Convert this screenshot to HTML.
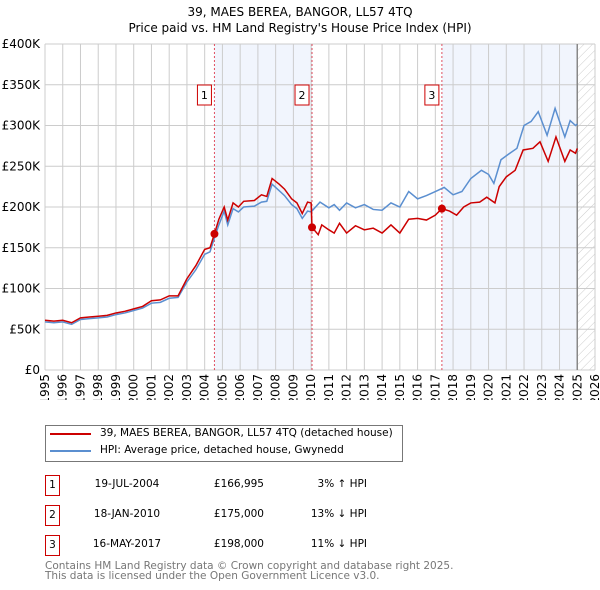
<!DOCTYPE html>
<html><head><meta charset="utf-8"><style>
body{margin:0;background:#fff;font-family:"DejaVu Sans","Liberation Sans",sans-serif;}
#wrap{position:relative;width:600px;height:590px;overflow:hidden}
.t{position:absolute;font-size:10.5px;color:#000;white-space:nowrap}
</style></head><body><div id="wrap">
<svg id="chart" width="600" height="400" style="position:absolute;left:0;top:0"></svg>
<div style="position:absolute;left:45px;top:425px;width:356px;height:35px;border:1px solid #777"></div>
<div style="position:absolute;left:50px;top:433px;width:41px;height:2px;background:#cc0000"></div>
<div class="t" style="left:100px;top:427px">39, MAES BEREA, BANGOR, LL57 4TQ (detached house)</div>
<div style="position:absolute;left:50px;top:450px;width:41px;height:2px;background:#5b8fd0"></div>
<div class="t" style="left:100px;top:444px">HPI: Average price, detached house, Gwynedd</div>
<div id="rows"></div>
<div class="t" style="left:45px;top:560px;color:#777">Contains HM Land Registry data © Crown copyright and database right 2025.</div>
<div class="t" style="left:45px;top:570px;color:#777">This data is licensed under the Open Government Licence v3.0.</div>
</div>
<script>
const yearTicks=[1995,1996,1997,1998,1999,2000,2001,2002,2003,2004,2005,2006,2007,2008,2009,2010,2011,2012,2013,2014,2015,2016,2017,2018,2019,2020,2021,2022,2023,2024,2025,2026];
const valueTicks=[0,50,100,150,200,250,300,350,400];
const valueTickLabels=["£0","£50K","£100K","£150K","£200K","£250K","£300K","£350K","£400K"];
const redYears=[1995,1995.5,1996,1996.5,1997,1997.5,1998,1998.5,1999,1999.5,2000,2000.5,2001,2001.5,2002,2002.5,2003,2003.5,2004,2004.3,2004.55,2004.8,2005.1,2005.3,2005.6,2005.9,2006.2,2006.8,2007.2,2007.5,2007.8,2008.2,2008.5,2008.9,2009.2,2009.5,2009.8,2010.0,2010.05,2010.4,2010.6,2011,2011.3,2011.6,2012,2012.5,2013,2013.5,2014,2014.5,2015,2015.5,2016,2016.5,2017,2017.37,2017.8,2018.2,2018.6,2019,2019.5,2019.9,2020.36,2020.6,2021,2021.5,2021.95,2022.5,2022.9,2023.36,2023.8,2024.3,2024.6,2024.9,2025.0];
const redValues=[61,60,61,58,64,65,66,67,70,72,75,78,85,86,91,91,112,128,148,150,167,185,200,184,205,200,207,208,215,213,235,228,222,210,205,192,206,205,175,166,178,172,168,180,168,177,172,174,168,178,168,185,186,184,190,198,195,190,200,205,206,212,205,225,237,245,270,272,280,256,286,256,270,266,272];
const hpiYears=[1995,1995.5,1996,1996.5,1997,1997.5,1998,1998.5,1999,1999.5,2000,2000.5,2001,2001.5,2002,2002.5,2003,2003.5,2004,2004.3,2004.55,2004.8,2005.1,2005.3,2005.6,2005.9,2006.2,2006.8,2007.2,2007.5,2007.8,2008.2,2008.5,2008.9,2009.2,2009.5,2009.8,2010.0,2010.5,2011,2011.3,2011.6,2012,2012.5,2013,2013.5,2014,2014.5,2015,2015.5,2016,2016.5,2017,2017.5,2018,2018.5,2019,2019.6,2020.0,2020.3,2020.7,2021.2,2021.6,2022,2022.4,2022.8,2023.3,2023.75,2024.3,2024.6,2024.9,2025.0];
const hpiValues=[59,58,59,56,62,63,64,65,68,70,73,76,82,83,88,89,108,123,142,145,162,178,195,178,198,194,200,201,206,207,228,220,214,203,198,186,195,194,206,199,203,196,205,199,203,197,196,205,200,219,210,214,219,224,215,219,235,245,240,229,258,266,272,300,305,317,288,321,286,306,300,302];
const sales=[["1","19-JUL-2004","£166,995","3% ↑ HPI",2004.55,167],["2","18-JAN-2010","£175,000","13% ↓ HPI",2010.05,175],["3","16-MAY-2017","£198,000","11% ↓ HPI",2017.37,198]];
const L=45,R=595,T=44,B=370;
const x=y=>L+(y-1995)*(R-L)/31;
const yv=v=>B-v*(B-T)/400;
const ns="http://www.w3.org/2000/svg";
const svg=document.getElementById('chart');
function mk(tag,attrs,parent){const e=document.createElementNS(ns,tag);for(const k in attrs)e.setAttribute(k,attrs[k]);(parent||svg).appendChild(e);return e;}
svg.innerHTML='<defs><pattern id="hatch" width="6" height="6" patternUnits="userSpaceOnUse" patternTransform="rotate(45)"><line x1="0" y1="0" x2="0" y2="6" stroke="#ccc" stroke-width="1"/></pattern></defs>';
const title1=mk('text',{x:300,y:16,'text-anchor':'middle','font-size':12});title1.textContent='39, MAES BEREA, BANGOR, LL57 4TQ';

const title2=mk('text',{x:300,y:32,'text-anchor':'middle','font-size':12});title2.textContent="Price paid vs. HM Land Registry's House Price Index (HPI)";

const sh1=mk('rect',{x:x(sales[0][4]),y:T,width:x(sales[1][4])-x(sales[0][4]),height:B-T,fill:'#eef2fc',opacity:0.8});

const sh2=mk('rect',{x:x(sales[2][4]),y:T,width:x(2025)-x(sales[2][4]),height:B-T,fill:'#eef2fc',opacity:0.8});

const hz=mk('rect',{x:x(2025),y:T,width:R-x(2025),height:B-T,fill:'url(#hatch)'});

yearTicks.forEach(yr=>{const g=mk('line',{x1:x(yr),x2:x(yr),y1:T,y2:B,stroke:'#ccc'});
const t=mk('text',{x:x(yr)+4,y:B+4,'font-size':12,transform:`rotate(-90 ${x(yr)+4} ${B+4})`,'text-anchor':'end'});t.textContent=yr;});
valueTicks.forEach((v,i)=>{const g=mk('line',{x1:L,x2:R,y1:yv(v),y2:yv(v),stroke:'#ccc'});
const t=mk('text',{x:40,y:yv(v)+4,'font-size':12,'text-anchor':'end'});t.textContent=valueTickLabels[i];});
const nl=mk('line',{x1:x(2025),x2:x(2025),y1:T,y2:B,stroke:'#888','stroke-width':1.5});
sales.forEach(s=>{const l=mk('line',{x1:x(s[4]),x2:x(s[4]),y1:T,y2:B,stroke:'#e05060','stroke-dasharray':'2,2'});
const bx=mk('rect',{x:x(s[4])-17,y:85,width:14,height:20,fill:'#fff',stroke:'#cc0000'});
const bt=mk('text',{x:x(s[4])-10,y:99,'font-size':11,'text-anchor':'middle'});bt.textContent=s[0];});
const hp=mk('polyline',{points:hpiYears.map((yr,i)=>x(yr)+','+yv(hpiValues[i])).join(' '),fill:'none',stroke:'#5b8fd0','stroke-width':1.5});

const rp=mk('polyline',{points:redYears.map((yr,i)=>x(yr)+','+yv(redValues[i])).join(' '),fill:'none',stroke:'#cc0000','stroke-width':1.5});

sales.forEach(s=>{const c=mk('circle',{cx:x(s[4]),cy:yv(s[5]),r:4,fill:'#cc0000'});});
const rows=document.getElementById('rows');
sales.forEach((s,i)=>{const top=475+i*30;
const d=document.createElement('div');
d.innerHTML=`<div style="position:absolute;left:45px;top:${top}px;width:13px;height:19px;border:1px solid #cc0000;font-size:10.5px;text-align:center;line-height:19px">${s[0]}</div>
<div class="t" style="left:82px;top:${top+3}px;width:90px;text-align:center">${s[1]}</div>
<div class="t" style="left:194px;top:${top+3}px;width:70px;text-align:right">${s[2]}</div>
<div class="t" style="left:287px;top:${top+3}px;width:80px;text-align:right">${s[3]}</div>`;
rows.appendChild(d);});
</script></body></html>
